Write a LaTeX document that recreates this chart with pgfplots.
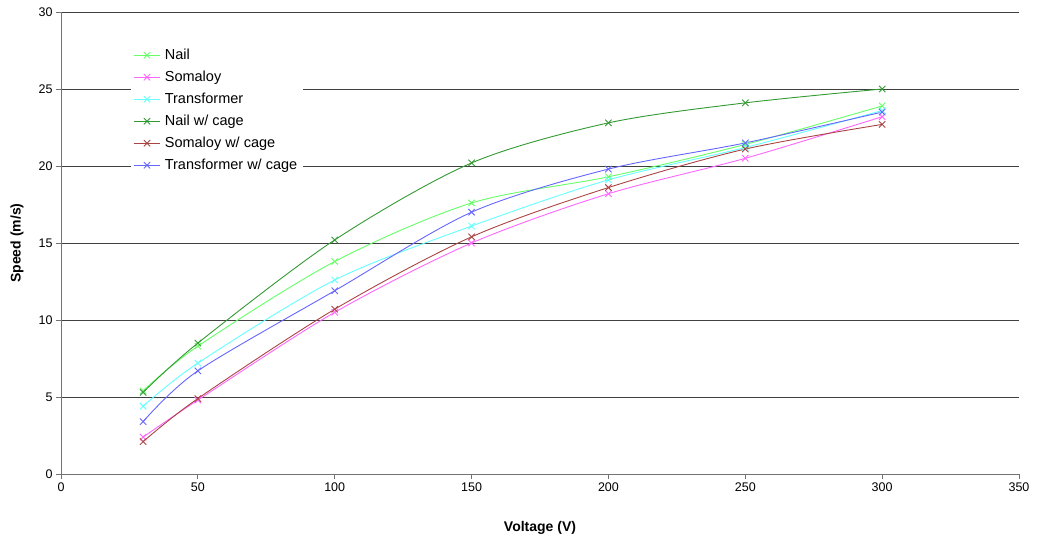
\documentclass[border=0pt]{standalone}
\usepackage{pgfplots}
\pgfplotsset{compat=1.18}
\usepackage{fontspec}
\setmainfont{Liberation Sans}
\definecolor{cNail}{RGB}{102,255,102}
\definecolor{cSom}{RGB}{255,102,255}
\definecolor{cTr}{RGB}{102,255,255}
\definecolor{cNailC}{RGB}{51,153,51}
\definecolor{cSomC}{RGB}{170,68,68}
\definecolor{cTrC}{RGB}{102,102,255}
\begin{document}
\begin{tikzpicture}
\path (-61pt,-67pt) rectangle (977pt,474pt);
\begin{axis}[
  scale only axis,
  width=958pt, height=462pt,
  xmin=0, xmax=350, ymin=0, ymax=30,
  xtick={0,50,...,350}, ytick={0,5,...,30},
  axis x line*=bottom, axis y line*=left,
  axis line style={black!55, line width=0.8pt},
  tick style={black!55, line width=0.8pt},
  tick align=outside, major tick length=5pt,
  ymajorgrids, grid style={black!75, line width=0.8pt},
  ticklabel style={font=\fontsize{12.5}{14}\selectfont},
  /pgf/number format/assume math mode=true,
  xlabel={\textbf{Voltage (V)}}, ylabel={\textbf{Speed (m/s)}},
  label style={font=\fontsize{14}{16}\selectfont},
  xlabel style={at={(axis description cs:0.5,0)}, anchor=north, yshift=-44pt},
  ylabel style={at={(axis description cs:0,0.5)}, anchor=south, yshift=34pt},
  every axis plot/.append style={line width=0.9pt, mark=x, mark size=4.5pt, smooth, tension=0.5},
  legend style={at={(70pt,430pt)}, anchor=north west, draw=none, fill=white,
    font=\fontsize{14.5}{17}\selectfont, row sep=6pt, inner xsep=2pt, inner ysep=3pt,
    nodes={inner xsep=4pt}},
  legend cell align=left,
  legend image code/.code={\draw[#1, mark repeat=2, mark phase=2] plot coordinates {(0cm,0cm) (0.47cm,0cm) (0.94cm,0cm)};},
  clip=false
]
\addplot[cNail] coordinates {(30,5.4) (50,8.3) (100,13.8) (150,17.6) (200,19.3) (250,21.4) (300,23.9)};
\addlegendentry{Nail}
\addplot[cSom] coordinates {(30,2.4) (50,4.8) (100,10.5) (150,15.0) (200,18.2) (250,20.5) (300,23.2)};
\addlegendentry{Somaloy}
\addplot[cTr] coordinates {(30,4.4) (50,7.2) (100,12.6) (150,16.1) (200,19.1) (250,21.2) (300,23.6)};
\addlegendentry{Transformer}
\addplot[cNailC] coordinates {(30,5.3) (50,8.5) (100,15.2) (150,20.2) (200,22.8) (250,24.1) (300,25.0)};
\addlegendentry{Nail w/ cage}
\addplot[cSomC] coordinates {(30,2.1) (50,4.9) (100,10.7) (150,15.4) (200,18.6) (250,21.1) (300,22.7)};
\addlegendentry{Somaloy w/ cage}
\addplot[cTrC] coordinates {(30,3.4) (50,6.7) (100,11.9) (150,17.0) (200,19.8) (250,21.5) (300,23.5)};
\addlegendentry{Transformer w/ cage}
\end{axis}
\end{tikzpicture}
\end{document}
